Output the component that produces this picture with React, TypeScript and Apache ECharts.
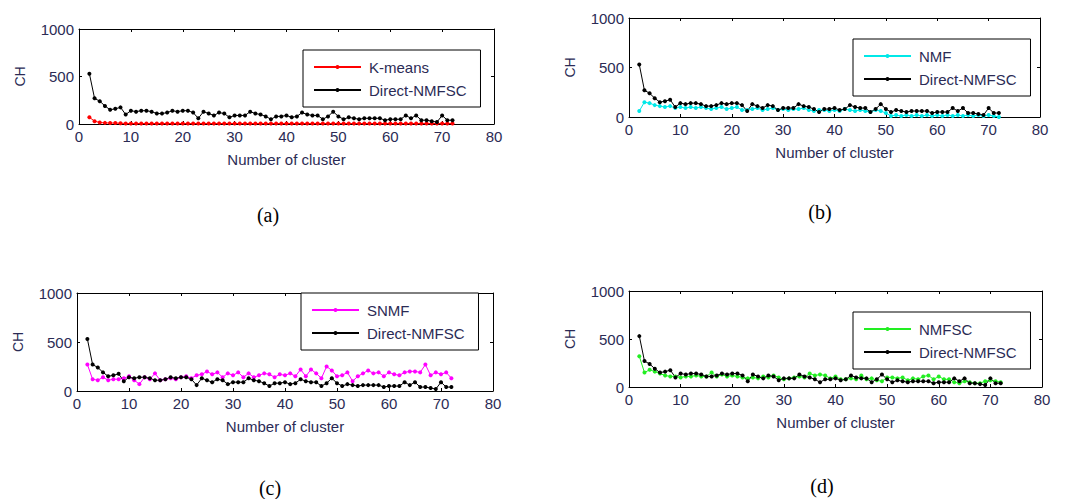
import React, { useEffect, useRef } from "react";
import * as echarts from "echarts";

const clusters: number[] = Array.from({ length: 71 }, (_, i) => i + 2);

const directNMFSC = [530, 270, 240, 190, 150, 160, 175, 100, 140, 130, 140, 140, 130, 110, 110, 120, 140, 130, 140, 140, 120, 60, 130, 110, 90, 120, 110, 70, 90, 90, 90, 130, 110, 100, 80, 50, 80, 80, 90, 70, 80, 120, 100, 90, 90, 50, 80, 130, 80, 50, 70, 60, 50, 60, 60, 60, 60, 40, 50, 50, 50, 90, 60, 90, 40, 40, 30, 20, 90, 40, 40];
const kmeans = [70, 30, 15, 12, 10, 10, 8, 6, 5, 5, 5, 5, 5, 5, 5, 5, 5, 5, 5, 5, 5, 5, 5, 5, 5, 5, 5, 5, 5, 5, 5, 5, 5, 5, 5, 5, 5, 5, 5, 5, 5, 5, 5, 5, 5, 5, 5, 5, 5, 5, 5, 5, 5, 5, 5, 5, 5, 5, 5, 5, 5, 5, 5, 5, 5, 5, 5, 5, 5, 5, 5];
const nmf = [60, 150, 140, 120, 110, 100, 110, 90, 100, 90, 100, 90, 100, 90, 80, 90, 100, 80, 90, 100, 70, 70, 80, 90, 70, 80, 90, 70, 80, 70, 80, 80, 90, 70, 60, 70, 70, 60, 70, 60, 80, 70, 60, 70, 60, 50, 70, 60, 40, 10, 20, 10, 20, 10, 20, 10, 20, 10, 20, 10, 20, 10, 20, 10, 20, 10, 20, 10, 20, 10, 0];
const snmf = [270, 120, 110, 140, 110, 120, 120, 130, 150, 110, 70, 140, 120, 180, 110, 120, 130, 120, 140, 150, 130, 160, 170, 200, 170, 190, 140, 180, 160, 190, 140, 180, 140, 160, 180, 170, 140, 170, 160, 180, 150, 220, 150, 220, 180, 130, 250, 210, 150, 160, 190, 100, 150, 180, 210, 180, 190, 150, 190, 170, 160, 190, 200, 200, 190, 270, 160, 190, 170, 190, 130];
const nmfsc = [320, 150, 180, 160, 140, 120, 110, 110, 100, 110, 110, 120, 110, 110, 150, 110, 130, 110, 120, 110, 100, 90, 100, 90, 110, 100, 120, 100, 80, 90, 100, 110, 100, 140, 120, 130, 120, 90, 110, 80, 80, 90, 80, 120, 80, 90, 70, 60, 100, 100, 90, 100, 70, 90, 80, 110, 120, 80, 110, 80, 80, 50, 40, 60, 50, 40, 40, 60, 70, 60, 50];

const xTicks = { min: 0, max: 80, interval: 10 };
const yTicks = { min: 0, max: 1000, interval: 500 };

const panels = [
  { name: "K-means", values: kmeans, color: "#ff0000", caption: "(a)" },
  { name: "NMF", values: nmf, color: "#00e8e8", caption: "(b)" },
  { name: "SNMF", values: snmf, color: "#ff00ff", caption: "(c)" },
  { name: "NMFSC", values: nmfsc, color: "#22ee22", caption: "(d)" },
];

const grids = [
  { left: 79, top: 29, width: 415, height: 95 },
  { left: 629, top: 18, width: 411, height: 99 },
  { left: 77, top: 293, width: 416, height: 98 },
  { left: 629, top: 291, width: 413, height: 96 },
];
const legendPos = [
  { left: 303, top: 50 },
  { left: 853, top: 39 },
  { left: 301, top: 293 },
  { left: 853, top: 312 },
];
const captionPos = [
  { x: 268, y: 215 },
  { x: 820, y: 212 },
  { x: 270, y: 488 },
  { x: 822, y: 486 },
];

const labelColor = "#2b2b55";
const font = "Liberation Sans, Arial, sans-serif";

export default function App() {
  const ref = useRef<HTMLDivElement>(null);
  useEffect(() => {
    if (!ref.current) return;
    const chart = echarts.init(ref.current, null, { renderer: "svg" });
    const xAxis: any[] = [];
    const yAxis: any[] = [];
    const series: any[] = [];
    const legend: any[] = [];
    const graphic: any[] = [];
    panels.forEach((p, i) => {
      const baseX = {
        type: "value",
        gridIndex: i,
        min: xTicks.min,
        max: xTicks.max,
        interval: xTicks.interval,
        splitLine: { show: false },
        axisLine: { show: true, onZero: false, lineStyle: { color: "#000", width: 1 } },
        axisTick: { show: true, inside: true, length: 3, lineStyle: { color: "#000" } },
      };
      xAxis.push({
        ...baseX,
        position: "bottom",
        name: "Number of cluster",
        nameLocation: "middle",
        nameGap: 28,
        nameTextStyle: { color: labelColor, fontSize: 15, fontFamily: font },
        axisLabel: { color: labelColor, fontSize: 15, fontFamily: font, margin: 5 },
      });
      xAxis.push({ ...baseX, position: "top", axisLabel: { show: false } });
      const baseY = {
        type: "value",
        gridIndex: i,
        min: yTicks.min,
        max: yTicks.max,
        interval: yTicks.interval,
        splitLine: { show: false },
        axisLine: { show: true, onZero: false, lineStyle: { color: "#000", width: 1 } },
        axisTick: { show: true, inside: true, length: 3, lineStyle: { color: "#000" } },
      };
      yAxis.push({
        ...baseY,
        position: "left",
        name: "CH",
        nameLocation: "middle",
        nameGap: 52,
        nameTextStyle: { color: labelColor, fontSize: 14, fontFamily: font },
        axisLabel: {
          color: labelColor,
          fontSize: 15,
          fontFamily: font,
          margin: 5,
          formatter: (v: number) => String(v),
        },
      });
      yAxis.push({ ...baseY, position: "right", axisLabel: { show: false } });
      series.push({
        type: "line",
        name: p.name,
        xAxisIndex: 2 * i,
        yAxisIndex: 2 * i,
        data: clusters.map((c, k) => [c, p.values[k]]),
        symbol: "circle",
        symbolSize: 4,
        lineStyle: { color: p.color, width: 1 },
        itemStyle: { color: p.color },
      });
      series.push({
        type: "line",
        name: "Direct-NMFSC",
        xAxisIndex: 2 * i,
        yAxisIndex: 2 * i,
        data: clusters.map((c, k) => [c, directNMFSC[k]]),
        symbol: "circle",
        symbolSize: 4,
        lineStyle: { color: "#000", width: 1 },
        itemStyle: { color: "#000" },
      });
      legend.push({
        data: [p.name, "Direct-NMFSC"],
        orient: "vertical",
        left: legendPos[i].left,
        top: legendPos[i].top,
        width: 175,
        backgroundColor: "#fff",
        borderColor: "#000",
        borderWidth: 1,
        borderRadius: 0,
        padding: [9, 14, 9, 10],
        itemGap: 7,
        itemWidth: 47,
        itemHeight: 5,
        textStyle: { color: labelColor, fontSize: 15, fontFamily: font, padding: [0, 0, 0, 3], lineHeight: 16 },
        selectedMode: false,
      });
      graphic.push({
        type: "text",
        x: captionPos[i].x,
        y: captionPos[i].y,
        style: {
          text: p.caption,
          font: "20px 'Liberation Serif', serif",
          fill: "#000",
          align: "center",
          verticalAlign: "middle",
        },
      });
    });
    chart.setOption({
      animation: false,
      backgroundColor: "#fff",
      grid: grids.map((g) => ({ ...g, containLabel: false })),
      xAxis,
      yAxis,
      series,
      legend,
      graphic,
    });
    return () => chart.dispose();
  }, []);
  return (
    <div
      ref={ref}
      style={{ position: "fixed", left: 0, top: 0, width: 1071, height: 499 }}
    />
  );
}
